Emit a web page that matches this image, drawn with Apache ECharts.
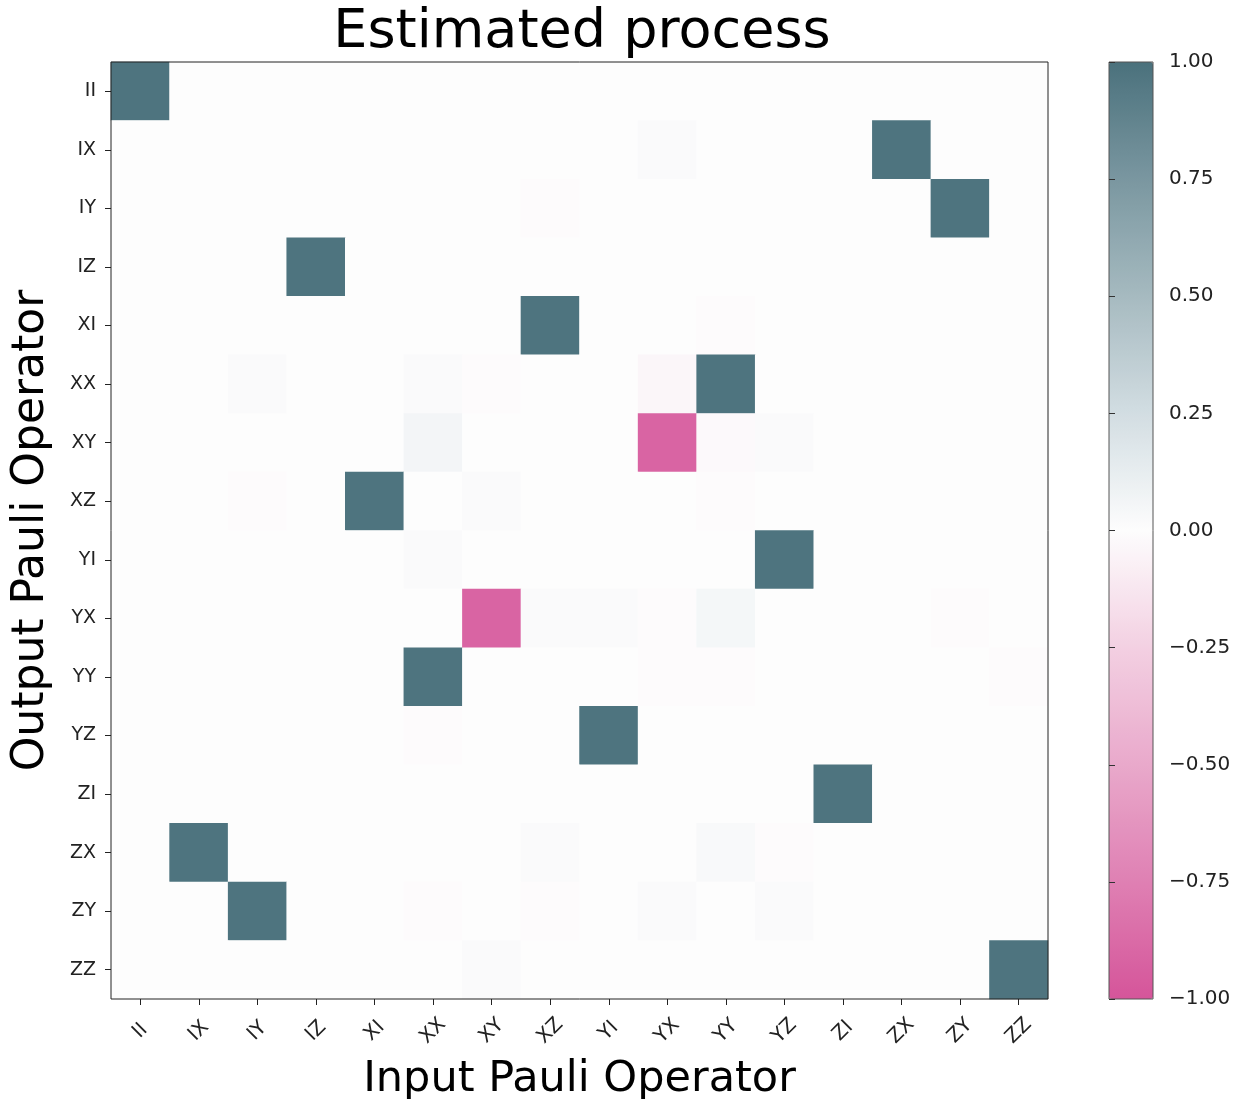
<!DOCTYPE html>
<html>
<head>
<meta charset="utf-8">
<script src="https://cdn.jsdelivr.net/npm/echarts@6/dist/echarts.min.js"></script>
<style>
html,body{margin:0;padding:0;background:#fff;}
#chart{width:1242px;height:1099px;}
</style>
</head>
<body>
<div id="chart"></div>
<script>
// Pauli operator labels (columns = input, rows = output)
const inputOps  = ['II','IX','IY','IZ','XI','XX','XY','XZ','YI','YX','YY','YZ','ZI','ZX','ZY','ZZ'];
const outputOps = ['II','IX','IY','IZ','XI','XX','XY','XZ','YI','YX','YY','YZ','ZI','ZX','ZY','ZZ'];

// Estimated process matrix, one array per output row (values in input order)
const rowII = [0.98, 0, 0, 0, 0, 0, 0, 0, 0, 0, 0, 0, 0, 0, 0, 0];
const rowIX = [0, 0, 0, 0, 0, 0, 0, 0, 0, 0.02, 0, 0, 0, 0.98, 0, 0];
const rowIY = [0, 0, 0, 0, 0, 0, 0, -0.01, 0, 0, 0, 0, 0, 0, 0.98, 0];
const rowIZ = [0, 0, 0, 0.98, 0, 0, 0, 0, 0, 0, 0, 0, 0, 0, 0, 0];
const rowXI = [0, 0, 0, 0, 0, 0, 0, 0.98, 0, 0, -0.01, 0, 0, 0, 0, 0];
const rowXX = [0, 0, 0.02, 0, 0, 0.02, -0.01, 0, 0, -0.04, 0.98, 0, 0, 0, 0, 0];
const rowXY = [0, 0, 0, 0, 0, 0.06, 0, 0, 0, -0.91, -0.02, 0.02, 0, 0, 0, 0];
const rowXZ = [0, 0, -0.01, 0, 0.98, 0, 0.02, 0, 0, 0, -0.01, 0, 0, 0, 0, 0];
const rowYI = [0, 0, 0, 0, 0, 0.02, 0, 0, 0, 0, 0, 0.98, 0, 0, 0, 0];
const rowYX = [0, 0, 0, 0, 0, 0, -0.91, 0.02, 0.02, -0.01, 0.05, 0, 0, 0, -0.01, 0];
const rowYY = [0, 0, 0, 0, 0, 0.98, 0, 0, 0, -0.01, -0.01, 0, 0, 0, 0, -0.01];
const rowYZ = [0, 0, 0, 0, 0, -0.01, 0, 0, 0.98, 0, 0, 0, 0, 0, 0, 0];
const rowZI = [0, 0, 0, 0, 0, 0, 0, 0, 0, 0, 0, 0, 0.98, 0, 0, 0];
const rowZX = [0, 0.98, 0, 0, 0, 0, 0, 0.02, 0, 0, 0.03, -0.01, 0, 0, 0, 0];
const rowZY = [0, 0, 0.98, 0, 0, -0.01, 0, -0.01, 0, 0.02, 0, 0.02, 0, 0, 0, 0];
const rowZZ = [0, 0, 0, 0, 0, 0, 0.02, 0, 0, 0, 0, 0, 0, 0, 0, 0.98];

const rows = [rowII,rowIX,rowIY,rowIZ,rowXI,rowXX,rowXY,rowXZ,rowYI,rowYX,rowYY,rowYZ,rowZI,rowZX,rowZY,rowZZ];

// Colour bar scale
const cbarMin = -1, cbarMax = 1, cbarStep = 0.25;
const cmapColors = ['#d5559a','#df80b3','#e9a9cb','#f3d0e2','#fdfdfd','#d2dde2','#a6bac0','#7a97a0','#4a717c'];

const heatData = [];
rows.forEach((r, yi) => r.forEach((v, xi) => heatData.push([xi, yi, v])));

const FONT = 'DejaVu Sans';
const chart = echarts.init(document.getElementById('chart'));
chart.setOption({
  backgroundColor: '#ffffff',
  animation: false,
  title: {
    text: 'Estimated process',
    left: 577, top: 1, textAlign: 'center',
    textStyle: {fontFamily: FONT, fontSize: 54, fontWeight: 'normal', color: '#000'}
  },
  grid: [
    {left: 111, top: 62, width: 937, height: 937, show: true, borderColor: '#222', borderWidth: 1, backgroundColor: 'transparent', z: 10, outerBoundsMode: 'none', containLabel: false},
    {left: 1109, top: 62, width: 44, height: 937, show: true, borderColor: '#555', borderWidth: 1, backgroundColor: 'transparent', z: 10, outerBoundsMode: 'none', containLabel: false}
  ],
  xAxis: [
    {
      type: 'category', data: inputOps, gridIndex: 0, position: 'bottom',
      name: 'Input Pauli Operator', nameLocation: 'middle', nameGap: 59,
      nameTextStyle: {fontFamily: FONT, fontSize: 43, color: '#000'},
      axisLine: {show: false},
      axisTick: {show: true, alignWithLabel: true, length: 6, lineStyle: {color: '#222'}},
      axisLabel: {rotate: 45, align: 'center', verticalAlign: 'middle', margin: 32, fontFamily: FONT, fontSize: 20, color: '#222', interval: 0},
      splitLine: {show: false}, z: 10
    },
    {
      type: 'value', gridIndex: 1, min: 0, max: 1, show: false
    }
  ],
  yAxis: [
    {
      type: 'category', data: outputOps, inverse: true, gridIndex: 0,
      name: 'Output Pauli Operator', nameLocation: 'middle', nameGap: 57, nameRotate: 90,
      nameTextStyle: {fontFamily: FONT, fontSize: 44, color: '#000'},
      axisLine: {show: false},
      axisTick: {show: true, alignWithLabel: true, length: 6, lineStyle: {color: '#222'}},
      axisLabel: {margin: 15, fontFamily: FONT, fontSize: 19, color: '#222', interval: 0},
      splitLine: {show: false}, z: 10
    },
    {
      type: 'value', gridIndex: 1, position: 'right', min: cbarMin, max: cbarMax, interval: cbarStep,
      axisLine: {show: false},
      axisTick: {show: true, length: 6, lineStyle: {color: '#333'}},
      axisLabel: {margin: 16, fontFamily: FONT, fontSize: 20, color: '#222',
        formatter: v => (v < 0 ? '\u2212' : '') + Math.abs(v).toFixed(2)},
      splitLine: {show: false}, z: 10
    }
  ],
  visualMap: {
    type: 'continuous', min: cbarMin, max: cbarMax, calculable: false, hoverLink: false,
    seriesIndex: 0, orient: 'vertical', left: 1109, top: 62, itemWidth: 44, itemHeight: 937,
    padding: 0, text: null, showLabel: false,
    inRange: {color: cmapColors}, z: 4
  },
  series: [{
    type: 'heatmap', xAxisIndex: 0, yAxisIndex: 0, data: heatData,
    label: {show: false}, emphasis: {disabled: true}
  }]
});
</script>
</body>
</html>
